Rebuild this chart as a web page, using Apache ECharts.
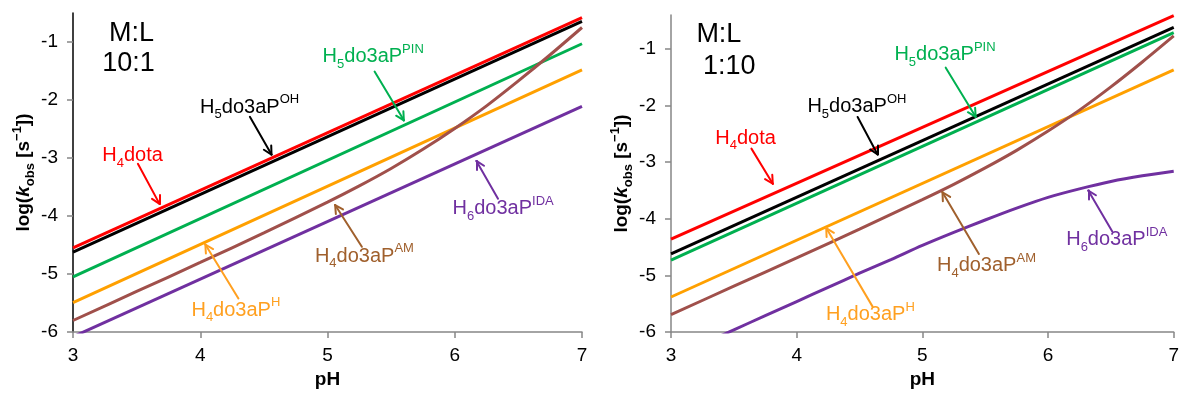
<!DOCTYPE html>
<html><head><meta charset="utf-8">
<script src="https://cdn.jsdelivr.net/npm/echarts@6/dist/echarts.min.js"></script>
<style>html,body{margin:0;padding:0;background:#fff}#c{width:1182px;height:394px}</style>
</head><body><div id="c"></div><script>
// ---------- data ----------
const yTicks = [-6, -5, -4, -3, -2, -1];
const straightPH = [3, 7];
// left panel (M:L 10:1) straight lines: log k at pH 3 and pH 7
const L_dota = [-4.55, -0.58];
const L_OH   = [-4.62, -0.645];
const L_PIN  = [-5.05, -1.03];
const L_H    = [-5.49, -1.48];
const L_IDA  = [-6.08, -2.11];
// curved AM series, both panels
const amPH   = [3, 3.5, 4, 4.5, 5, 5.25, 5.5, 5.75, 6, 6.25, 6.5, 6.75, 7];
const L_AM   = [-5.80, -5.30, -4.80, -4.29, -3.76, -3.48, -3.18, -2.85, -2.49, -2.10, -1.67, -1.22, -0.75];
// right panel (M:L 1:10)
const R_dota = [-4.36, -0.41];
const R_OH   = [-4.62, -0.62];
const R_PIN  = [-4.73, -0.71];
const R_H    = [-5.38, -1.37];
const R_AM   = [-5.69, -5.19, -4.69, -4.18, -3.66, -3.39, -3.10, -2.79, -2.45, -2.08, -1.67, -1.23, -0.77];
const idaPH  = [3.25, 3.5, 3.75, 4, 4.25, 4.5, 4.75, 5, 5.25, 5.5, 5.75, 6, 6.25, 6.5, 6.75, 7];
const R_IDA  = [-6.21, -5.96, -5.71, -5.46, -5.21, -4.96, -4.72, -4.47, -4.24, -4.02, -3.81, -3.62, -3.47, -3.34, -3.24, -3.16];

// ---------- styling ----------
const FONT = '"Liberation Sans", Arial, sans-serif';
const C = { dota:'#FF0000', OH:'#000000', PIN:'#00B050', H:'#FFA000', AM:'#A0504B', IDA:'#7030A0' };
const TXT = { dota:'#FF0000', OH:'#000000', PIN:'#00B050', H:'#FFA020', AM:'#A0602D', IDA:'#7030A0' };
const LABELS = {
  dota:'{n|H}{sb|4}{n|dota}',
  OH:'{n|H}{sb|5}{n|do3aP}{sp|OH}',
  PIN:'{n|H}{sb|5}{n|do3aP}{sp|PIN}',
  H:'{n|H}{sb|4}{n|do3aP}{sp|H}',
  AM:'{n|H}{sb|4}{n|do3aP}{sp|AM}',
  IDA:'{n|H}{sb|6}{n|do3aP}{sp|IDA}'
};
// annotation placement (label centre, arrow start, arrow tip) in data coords
const annLeft = [
  {k:'dota', at:[3.468,-2.96], from:[3.51,-3.10], to:[3.68,-3.79]},
  {k:'OH',   at:[4.388,-2.12], from:[4.39,-2.29], to:[4.56,-2.94]},
  {k:'PIN',  at:[5.359,-1.25], from:[5.37,-1.51], to:[5.60,-2.35]},
  {k:'H',    at:[4.28,-5.62],  from:[4.30,-5.42], to:[4.04,-4.49]},
  {k:'AM',   at:[5.29,-4.69],  from:[5.27,-4.53], to:[5.06,-3.81]},
  {k:'IDA',  at:[6.38,-3.87],  from:[6.34,-3.70], to:[6.17,-3.05]}
];
const annRight = [
  {k:'dota', at:[3.593,-2.577], from:[3.64,-2.76], to:[3.81,-3.38]},
  {k:'OH',   at:[4.479,-2.024], from:[4.485,-2.20], to:[4.644,-2.863]},
  {k:'PIN',  at:[5.18,-1.10],   from:[5.186,-1.33], to:[5.424,-2.198]},
  {k:'H',    at:[4.586,-5.69],  from:[4.604,-5.55], to:[4.235,-4.163]},
  {k:'AM',   at:[5.51,-4.83],   from:[5.45,-4.62],  to:[5.16,-3.53]},
  {k:'IDA',  at:[6.547,-4.364], from:[6.51,-4.22],  to:[6.32,-3.50]}
];
const ratioLeft  = [{t:'M:L', at:[3.46,-0.858]}, {t:'10:1', at:[3.436,-1.365]}];
const ratioRight = [{t:'M:L', at:[3.381,-0.754]}, {t:'1:10', at:[3.464,-1.303]}];

const zip = (xs, ys) => xs.map((x, i) => [x, ys[i]]);

function richFor(color) {
  return {
    n:{fontSize:20, lineHeight:28, color, fontFamily:FONT},
    sb:{fontSize:13, lineHeight:13, verticalAlign:'bottom', color, fontFamily:FONT},
    sp:{fontSize:13, lineHeight:22, verticalAlign:'top', color, fontFamily:FONT}
  };
}

function lineSeries(name, idx, xs, ys, color, smooth) {
  return { name, type:'line', xAxisIndex:idx, yAxisIndex:idx, data:zip(xs, ys),
    showSymbol:false, symbol:'none', smooth: smooth ? 0.3 : false, clip:true,
    lineStyle:{color, width:3}, itemStyle:{color}, silent:true, z:2 };
}
function seg(p, q, color) {
  const ls = {color, width:2, type:'solid', cap:'round'};
  return [{coord:p, lineStyle:ls}, {coord:q, lineStyle:ls}];
}
function annSeries(id, idx, anns, ratios) {
  const mp = anns.map(a => ({ coord:a.at, symbol:'rect', symbolSize:1,
      itemStyle:{color:'rgba(0,0,0,0)'},
      label:{show:true, position:'inside', formatter:LABELS[a.k], rich:richFor(TXT[a.k])} }));
  ratios.forEach(r => mp.push({ coord:r.at, symbol:'rect', symbolSize:1,
      itemStyle:{color:'rgba(0,0,0,0)'},
      label:{show:true, position:'inside', formatter:r.t, fontSize:27, color:'#000', fontFamily:FONT} }));
  return { id, type:'scatter', xAxisIndex:idx, yAxisIndex:idx, data:[], silent:true, z:5,
    markPoint:{ data:mp, silent:true, animation:false },
    markLine:{ data:anns.map(a => seg(a.from, a.to, TXT[a.k])), silent:true, animation:false,
      symbol:['none','none'], label:{show:false}, lineStyle:{type:'solid', width:2} } };
}

const GRAY = '#868686';
function xAxis(idx) {
  return { type:'value', gridIndex:idx, min:3, max:7, interval:1,
    name:'pH', nameLocation:'middle', nameGap:27,
    nameTextStyle:{fontSize:19, fontWeight:'bold', color:'#000', fontFamily:FONT},
    axisLine:{show:true, onZero:false, lineStyle:{color:GRAY, width:1.5}},
    axisTick:{show:true, length:6, lineStyle:{color:GRAY, width:1.5}},
    axisLabel:{margin:14, fontSize:19, color:'#000', fontFamily:FONT},
    splitLine:{show:false} };
}
function yAxis(idx, max, lineColor, gap) {
  return { type:'value', gridIndex:idx, min:-6, max, interval:1,
    name:'{b|log(}{i|k}{s|obs}{b| [s}{p|−1}{b|])}', nameLocation:'middle', nameGap:gap,
    nameTextStyle:{ color:'#000', fontFamily:FONT, rich:{
      b:{fontSize:19, fontWeight:'bold', lineHeight:26, color:'#000', fontFamily:FONT},
      i:{fontSize:19, fontWeight:'bold', fontStyle:'italic', lineHeight:26, color:'#000', fontFamily:FONT},
      s:{fontSize:13, fontWeight:'bold', lineHeight:13, verticalAlign:'bottom', color:'#000', fontFamily:FONT},
      p:{fontSize:13, fontWeight:'bold', color:'#000', fontFamily:FONT, verticalAlign:'top', lineHeight:15}
    }},
    axisLine:{show:true, onZero:false, lineStyle:{color:lineColor, width:1.5}},
    axisTick:{show:true, length:6, customValues:yTicks, lineStyle:{color:GRAY, width:1.5}},
    axisLabel:{margin:15, fontSize:19, color:'#000', fontFamily:FONT, customValues:yTicks},
    splitLine:{show:false} };
}

const option = {
  animation:false,
  backgroundColor:'#fff',
  grid:[
    {left:73, right:600, top:13, bottom:56, containLabel:false},
    {left:671, right:7, top:15, bottom:56, containLabel:false}
  ],
  xAxis:[xAxis(0), xAxis(1)],
  yAxis:[yAxis(0, -0.5, '#000', 36), yAxis(1, -0.4, GRAY, 30)],
  series:[
    lineSeries('L dota', 0, straightPH, L_dota, C.dota),
    lineSeries('L OH',   0, straightPH, L_OH,   C.OH),
    lineSeries('L PIN',  0, straightPH, L_PIN,  C.PIN),
    lineSeries('L H',    0, straightPH, L_H,    C.H),
    lineSeries('L AM',   0, amPH,       L_AM,   C.AM, true),
    lineSeries('L IDA',  0, straightPH, L_IDA,  C.IDA),
    annSeries('annL', 0, annLeft, ratioLeft),
    lineSeries('R dota', 1, straightPH, R_dota, C.dota),
    lineSeries('R OH',   1, straightPH, R_OH,   C.OH),
    lineSeries('R PIN',  1, straightPH, R_PIN,  C.PIN),
    lineSeries('R H',    1, straightPH, R_H,    C.H),
    lineSeries('R AM',   1, amPH,       R_AM,   C.AM, true),
    lineSeries('R IDA',  1, idaPH,      R_IDA,  C.IDA, true),
    annSeries('annR', 1, annRight, ratioRight)
  ]
};
const chart = echarts.init(document.getElementById('c'), null, {renderer:'canvas'});
chart.setOption(option);

// open arrowheads: two short arms at each tip, worked out through the grid's own conversion
const ARM = 9, ANG = 28 * Math.PI / 180;
function withHeads(idx, anns) {
  const finder = {gridIndex: idx};
  const out = [];
  anns.forEach(a => {
    const col = TXT[a.k];
    out.push(seg(a.from, a.to, col));
    const p1 = chart.convertToPixel(finder, a.from);
    const p2 = chart.convertToPixel(finder, a.to);
    const dx = p1[0] - p2[0], dy = p1[1] - p2[1];
    const L = Math.hypot(dx, dy), ux = dx / L, uy = dy / L;
    [ANG, -ANG].forEach(t => {
      const vx = ux * Math.cos(t) - uy * Math.sin(t);
      const vy = ux * Math.sin(t) + uy * Math.cos(t);
      const end = chart.convertFromPixel(finder, [p2[0] + ARM * vx, p2[1] + ARM * vy]);
      out.push(seg(a.to, end, col));
    });
  });
  return out;
}
chart.setOption({ series:[
  {id:'annL', markLine:{data: withHeads(0, annLeft)}},
  {id:'annR', markLine:{data: withHeads(1, annRight)}}
]});
</script></body></html>
